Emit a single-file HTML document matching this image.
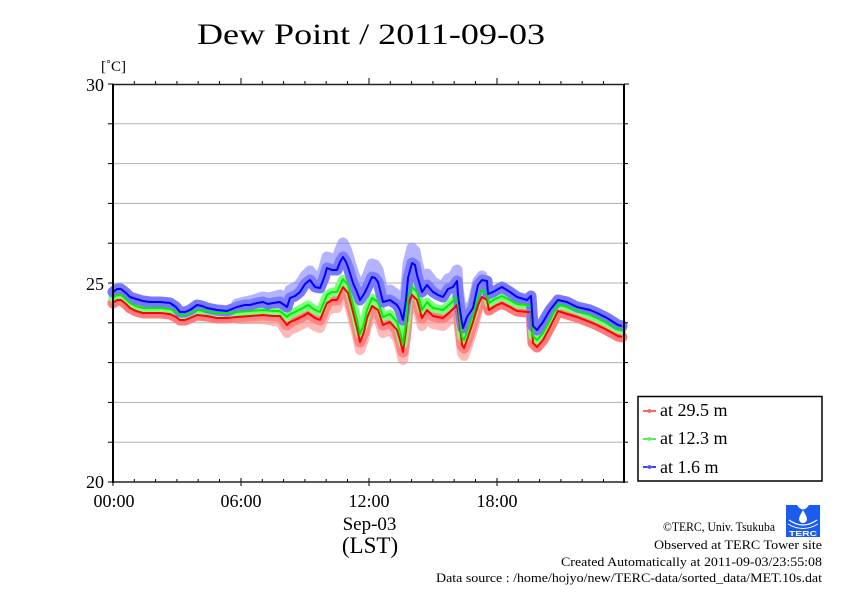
<!DOCTYPE html>
<html><head><meta charset="utf-8"><style>
html,body{margin:0;padding:0;background:#fff;}
svg{display:block;}
text{font-family:"Liberation Serif","DejaVu Serif",serif;fill:#000;}
</style></head><body>
<svg width="842" height="595" viewBox="0 0 842 595" xmlns="http://www.w3.org/2000/svg">
<rect width="842" height="595" fill="#fff"/>
<text x="197" y="44" font-size="30" textLength="348" lengthAdjust="spacingAndGlyphs">Dew Point / 2011-09-03</text>

<!-- grid -->
<g stroke="#b0b0b0" stroke-width="1">
<line x1="113" y1="123.8" x2="624" y2="123.8"/>
<line x1="113" y1="163.6" x2="624" y2="163.6"/>
<line x1="113" y1="203.4" x2="624" y2="203.4"/>
<line x1="113" y1="243.2" x2="624" y2="243.2"/>
<line x1="113" y1="283" x2="624" y2="283"/>
<line x1="113" y1="322.8" x2="624" y2="322.8"/>
<line x1="113" y1="362.6" x2="624" y2="362.6"/>
<line x1="113" y1="402.4" x2="624" y2="402.4"/>
<line x1="113" y1="442.2" x2="624" y2="442.2"/>
</g>

<!-- bands -->
<g fill="none" stroke-linejoin="round" stroke-linecap="round">
<polyline stroke="#ff7a7a" stroke-width="11" points="113,303 117,300 121,300 126,304 130,308 136,311 143,313 160,313 170,314 176,317 180,320 185,320 190,318 197,315 207,316 217,318 227,318 237,317 250,316 263,315 273,316 280,316 287,325 290,322 295,320 303,316 308,313 315,318 320,320 327,303 332,300 337,300 343,287 348,293 353,312 357,328 360,342 364,332 367,318 372,306 378,310 383,325 390,322 397,330 400,340 403,352 406,330 408,305 412,295 417,300 422,318 427,310 433,316 443,318 450,312 457,305 459,318 462,345 464,348 467,340 473,322 478,305 482,297 487,300 489,310 495,306 502,303 510,307 517,311 527,312 531,312 533,343 537,347 543,340 550,327 558,311 567,314 577,317 590,322 597,325 607,330 618,336 622,337"/>
<polyline stroke="#ff8a8a" stroke-width="10" opacity="0.6" points="237,319 250,319 263,319 273,321 280,322 287,333 290,330 295,328 303,324 308,321 315,326 320,328 327,311 332,308 337,308 343,295 348,301 353,320 357,336 360,350 364,340 367,326 372,314 378,318 383,333 390,330 397,338 400,348 403,360 406,338 408,313 412,303 417,308 422,326 427,318 433,324 443,326 450,320 457,313 459,326 462,353 464,356 467,348 473,330 478,310 482,301"/>
<polyline stroke="#7dff7d" stroke-width="9" points="113,298 117,295 121,295 126,299 130,303 136,306 143,308 160,308 170,309 176,312 180,315 185,315 190,313 197,310 207,311 217,313 227,313 237,312 250,311 263,310 273,311 280,311 287,317 290,314 295,312 303,308 308,305 315,310 320,312 327,295 332,292 337,292 343,279 348,285 353,304 357,320 360,334 364,324 367,310 372,298 378,302 383,317 390,314 397,322 400,332 403,344 406,322 408,297 412,287 417,292 422,310 427,302 433,308 443,310 450,304 457,297 459,310 462,337 464,340 467,332 473,314 478,298 482,290 487,293 489,303 495,299 502,296 510,300 517,304 527,305 531,305 533,336 537,340 543,333 550,320 558,304 567,307 577,310 590,315 597,318 607,323 618,329 622,330"/>
<polyline stroke="#7878ff" stroke-width="11" points="113,292 117,289 121,289 126,293 130,297 136,299 143,301 150,302 160,302 170,303 176,307 180,312 185,312 190,310 197,305 202,306 207,308 217,310 227,311 237,307 245,305 250,305 257,303 263,302 268,304 273,303 280,302 287,307 290,298 295,296 300,292 305,284 310,280 315,287 320,288 324,278 327,268 332,270 337,270 340,262 343,257 346,262 348,267 353,283 357,292 360,300 364,294 367,288 372,277 375,278 378,282 383,302 390,300 397,305 400,310 403,320 406,300 408,278 412,263 415,265 417,275 422,292 427,285 433,292 438,295 443,297 448,289 453,287 457,281 458,295 460,310 462,323 463,328 467,317 473,308 478,285 482,280 487,281 488,294 493,292 502,287 510,292 517,297 527,300 531,296 533,326 537,330 543,322 550,310 558,300 567,302 577,307 590,310 597,313 607,318 618,325 622,326"/>
<polyline stroke="#8080ff" stroke-width="11" opacity="0.6" points="237,304 245,302 250,301 257,299 263,297 268,298 273,297 280,295 287,299 290,290 295,288 300,284 305,276 310,271 315,278 320,279 324,268 327,257 332,259 337,259 340,250 343,243 346,249 348,255 353,272 357,282 360,290 364,284 367,277 372,264 375,265 378,270 383,292 390,290 397,295 400,300 403,310 406,288 408,264 412,248 415,251 417,262 422,281 427,274 433,282 438,285 443,287 448,279 453,277 457,270 458,288 462,316 467,311 473,303 478,281 482,276"/>
</g>

<!-- lines -->
<g fill="none" stroke-linejoin="round" stroke-width="2">
<polyline stroke="#ff0000" points="113,303 117,300 121,300 126,304 130,308 136,311 143,313 160,313 170,314 176,317 180,320 185,320 190,318 197,315 207,316 217,318 227,318 237,317 250,316 263,315 273,316 280,316 287,325 290,322 295,320 303,316 308,313 315,318 320,320 327,303 332,300 337,300 343,287 348,293 353,312 357,328 360,342 364,332 367,318 372,306 378,310 383,325 390,322 397,330 400,340 403,352 406,330 408,305 412,295 417,300 422,318 427,310 433,316 443,318 450,312 457,305 459,318 462,345 464,348 467,340 473,322 478,305 482,297 487,300 489,310 495,306 502,303 510,307 517,311 527,312 531,312 533,343 537,347 543,340 550,327 558,311 567,314 577,317 590,322 597,325 607,330 618,336 622,337"/>
<polyline stroke="#00ee00" points="113,298 117,295 121,295 126,299 130,303 136,306 143,308 160,308 170,309 176,312 180,315 185,315 190,313 197,310 207,311 217,313 227,313 237,312 250,311 263,310 273,311 280,311 287,317 290,314 295,312 303,308 308,305 315,310 320,312 327,295 332,292 337,292 343,279 348,285 353,304 357,320 360,334 364,324 367,310 372,298 378,302 383,317 390,314 397,322 400,332 403,344 406,322 408,297 412,287 417,292 422,310 427,302 433,308 443,310 450,304 457,297 459,310 462,337 464,340 467,332 473,314 478,298 482,290 487,293 489,303 495,299 502,296 510,300 517,304 527,305 531,305 533,336 537,340 543,333 550,320 558,304 567,307 577,310 590,315 597,318 607,323 618,329 622,330"/>
<polyline stroke="#0000ff" points="113,292 117,289 121,289 126,293 130,297 136,299 143,301 150,302 160,302 170,303 176,307 180,312 185,312 190,310 197,305 202,306 207,308 217,310 227,311 237,307 245,305 250,305 257,303 263,302 268,304 273,303 280,302 287,307 290,298 295,296 300,292 305,284 310,280 315,287 320,288 324,278 327,268 332,270 337,270 340,262 343,257 346,262 348,267 353,283 357,292 360,300 364,294 367,288 372,277 375,278 378,282 383,302 390,300 397,305 400,310 403,320 406,300 408,278 412,263 415,265 417,275 422,292 427,285 433,292 438,295 443,297 448,289 453,287 457,281 458,295 460,310 462,323 463,328 467,317 473,308 478,285 482,280 487,281 488,294 493,292 502,287 510,292 517,297 527,300 531,296 533,326 537,330 543,322 550,310 558,300 567,302 577,307 590,310 597,313 607,318 618,325 622,326"/>
</g>

<!-- ticks -->
<g stroke="#000" stroke-width="1">
<line x1="134.3" y1="81" x2="134.3" y2="84"/><line x1="155.6" y1="81" x2="155.6" y2="84"/><line x1="176.9" y1="81" x2="176.9" y2="84"/><line x1="198.2" y1="81" x2="198.2" y2="84"/><line x1="219.5" y1="81" x2="219.5" y2="84"/>
<line x1="262.3" y1="81" x2="262.3" y2="84"/><line x1="283.6" y1="81" x2="283.6" y2="84"/><line x1="304.9" y1="81" x2="304.9" y2="84"/><line x1="326.2" y1="81" x2="326.2" y2="84"/><line x1="347.5" y1="81" x2="347.5" y2="84"/>
<line x1="390.3" y1="81" x2="390.3" y2="84"/><line x1="411.6" y1="81" x2="411.6" y2="84"/><line x1="432.9" y1="81" x2="432.9" y2="84"/><line x1="454.2" y1="81" x2="454.2" y2="84"/><line x1="475.5" y1="81" x2="475.5" y2="84"/>
<line x1="518.3" y1="81" x2="518.3" y2="84"/><line x1="539.6" y1="81" x2="539.6" y2="84"/><line x1="560.9" y1="81" x2="560.9" y2="84"/><line x1="582.2" y1="81" x2="582.2" y2="84"/><line x1="603.5" y1="81" x2="603.5" y2="84"/>
<line x1="241" y1="78" x2="241" y2="84"/><line x1="369" y1="78" x2="369" y2="84"/><line x1="497" y1="78" x2="497" y2="84"/>
<line x1="134.3" y1="479" x2="134.3" y2="482"/><line x1="155.6" y1="479" x2="155.6" y2="482"/><line x1="176.9" y1="479" x2="176.9" y2="482"/><line x1="198.2" y1="479" x2="198.2" y2="482"/><line x1="219.5" y1="479" x2="219.5" y2="482"/>
<line x1="262.3" y1="479" x2="262.3" y2="482"/><line x1="283.6" y1="479" x2="283.6" y2="482"/><line x1="304.9" y1="479" x2="304.9" y2="482"/><line x1="326.2" y1="479" x2="326.2" y2="482"/><line x1="347.5" y1="479" x2="347.5" y2="482"/>
<line x1="390.3" y1="479" x2="390.3" y2="482"/><line x1="411.6" y1="479" x2="411.6" y2="482"/><line x1="432.9" y1="479" x2="432.9" y2="482"/><line x1="454.2" y1="479" x2="454.2" y2="482"/><line x1="475.5" y1="479" x2="475.5" y2="482"/>
<line x1="518.3" y1="479" x2="518.3" y2="482"/><line x1="539.6" y1="479" x2="539.6" y2="482"/><line x1="560.9" y1="479" x2="560.9" y2="482"/><line x1="582.2" y1="479" x2="582.2" y2="482"/><line x1="603.5" y1="479" x2="603.5" y2="482"/>
<line x1="241" y1="478" x2="241" y2="486"/><line x1="369" y1="478" x2="369" y2="486"/><line x1="497" y1="478" x2="497" y2="486"/><line x1="113" y1="482" x2="113" y2="486"/>
<line x1="108" y1="84" x2="113" y2="84"/><line x1="108" y1="123.8" x2="113" y2="123.8"/><line x1="108" y1="163.6" x2="113" y2="163.6"/><line x1="108" y1="203.4" x2="113" y2="203.4"/><line x1="108" y1="243.2" x2="113" y2="243.2"/><line x1="108" y1="283" x2="113" y2="283"/><line x1="108" y1="322.8" x2="113" y2="322.8"/><line x1="108" y1="362.6" x2="113" y2="362.6"/><line x1="108" y1="402.4" x2="113" y2="402.4"/><line x1="108" y1="442.2" x2="113" y2="442.2"/><line x1="108" y1="482" x2="113" y2="482"/>
<line x1="624" y1="84" x2="629" y2="84"/><line x1="624" y1="123.8" x2="628" y2="123.8"/><line x1="624" y1="163.6" x2="628" y2="163.6"/><line x1="624" y1="203.4" x2="628" y2="203.4"/><line x1="624" y1="243.2" x2="628" y2="243.2"/><line x1="624" y1="283" x2="628" y2="283"/><line x1="624" y1="322.8" x2="628" y2="322.8"/><line x1="624" y1="362.6" x2="628" y2="362.6"/><line x1="624" y1="402.4" x2="628" y2="402.4"/><line x1="624" y1="442.2" x2="628" y2="442.2"/><line x1="624" y1="482" x2="628" y2="482"/>
</g>

<!-- axes frame -->
<line x1="113" y1="84.5" x2="624" y2="84.5" stroke="#222" stroke-width="1.5"/>
<line x1="113" y1="482" x2="624" y2="482" stroke="#222" stroke-width="1.5"/>
<line x1="113" y1="84" x2="113" y2="483" stroke="#000" stroke-width="2"/>
<line x1="624" y1="84" x2="624" y2="483" stroke="#000" stroke-width="2"/>

<!-- axis labels -->
<text x="101" y="71" font-size="15">[˚C]</text>
<g font-size="18" text-anchor="end">
<text x="104" y="91">30</text>
<text x="104" y="290">25</text>
<text x="104" y="488">20</text>
</g>
<g font-size="18" text-anchor="middle">
<text x="114" y="507">00:00</text>
<text x="241" y="507">06:00</text>
<text x="369" y="507">12:00</text>
<text x="497" y="507">18:00</text>
</g>
<text x="369.5" y="530" font-size="19" text-anchor="middle">Sep-03</text>
<text x="370" y="553" font-size="23" text-anchor="middle">(LST)</text>

<!-- legend -->
<rect x="638" y="396.5" width="184" height="84.5" fill="#fff" stroke="#000" stroke-width="1.5"/>
<line x1="643" y1="411" x2="656" y2="411" stroke="#ff3030" stroke-width="1.5"/><circle cx="649.5" cy="411" r="1.6" fill="none" stroke="#ff7070" stroke-width="1"/>
<line x1="643" y1="439" x2="656" y2="439" stroke="#20e020" stroke-width="1.5"/><circle cx="649.5" cy="439" r="1.6" fill="none" stroke="#70ff70" stroke-width="1"/>
<line x1="643" y1="467" x2="656" y2="467" stroke="#0000ff" stroke-width="1.5"/><circle cx="649.5" cy="467" r="1.6" fill="none" stroke="#7070ff" stroke-width="1"/>
<g font-size="18">
<text x="660" y="416">at 29.5 m</text>
<text x="660" y="444">at 12.3 m</text>
<text x="660" y="473">at 1.6 m</text>
</g>

<!-- logo -->
<g>
<rect x="786" y="505" width="34" height="32" fill="#1a5cf0"/>
<path d="M797,505 Q803,514 809,505 Z" fill="#fff"/>
<path d="M803,510 Q799,517 799,519 A4,4 0 0 0 807,519 Q807,517 803,510 Z" fill="#fff"/>
<path d="M789,520 Q803,530 817,520" fill="none" stroke="#fff" stroke-width="1.2"/>
<path d="M788,524 Q803,533 818,524" fill="none" stroke="#fff" stroke-width="1"/>
<text x="803" y="536" font-size="7" font-weight="bold" text-anchor="middle" fill="#fff" style="fill:#fff;font-family:'Liberation Sans',sans-serif" textLength="28" lengthAdjust="spacingAndGlyphs">TERC</text>
</g>

<!-- footer -->
<g font-size="13" text-anchor="end">
<text x="775" y="531" textLength="112" lengthAdjust="spacingAndGlyphs">©TERC, Univ. Tsukuba</text>
<text x="822" y="549" textLength="168" lengthAdjust="spacingAndGlyphs">Observed at TERC Tower site</text>
<text x="822" y="566" textLength="261" lengthAdjust="spacingAndGlyphs">Created Automatically at 2011-09-03/23:55:08</text>
<text x="822" y="582" textLength="386" lengthAdjust="spacingAndGlyphs">Data source : /home/hojyo/new/TERC-data/sorted_data/MET.10s.dat</text>
</g>
</svg>
</body></html>
